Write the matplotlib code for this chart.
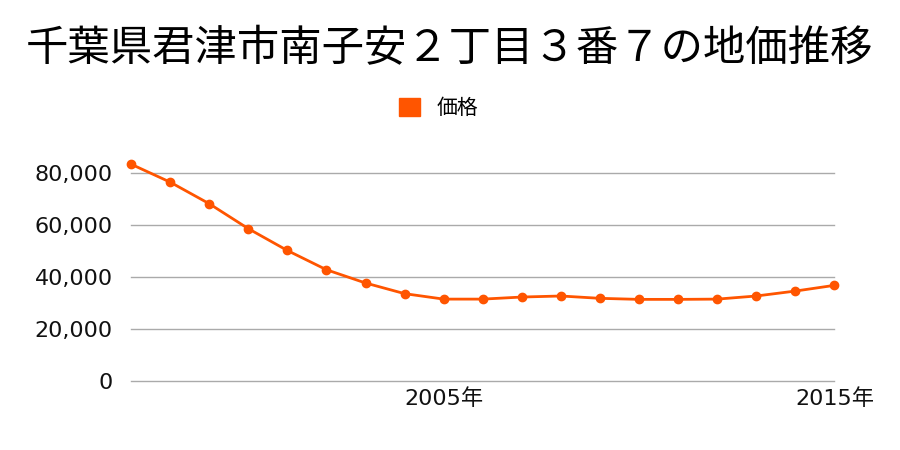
import matplotlib
matplotlib.use('Agg')
import matplotlib.pyplot as plt
from matplotlib.ticker import FuncFormatter
from matplotlib.patches import Patch

plt.rcParams['font.family'] = ['DejaVu Sans', 'Noto Sans CJK JP']

title = "千葉県君津市南子安２丁目３番７の地価推移"
years = list(range(1997, 2016))
price = [83400, 76500, 68200, 58600, 50200, 42800, 37700, 33600, 31500, 31500,
         32300, 32700, 31800, 31400, 31400, 31500, 32700, 34600, 36800]
xticks = [2005, 2015]
xticklabels = ["2005年", "2015年"]
yticks = [0, 20000, 40000, 60000, 80000]

color = '#ff5500'
cjk = ['Noto Sans CJK JP', 'DejaVu Sans']

fig = plt.figure(figsize=(9, 4.5), dpi=100)
ax = fig.add_axes([0.1456, 0.1533, 0.7816, 0.52])

ax.plot(years, price, color=color, linewidth=2, marker='o', markersize=6,
        clip_on=False, zorder=3)

ax.set_xlim(1997, 2015)
ax.set_ylim(0, 90000)
ax.set_yticks(yticks)
ax.yaxis.set_major_formatter(FuncFormatter(lambda v, p: f"{int(v):,}"))
ax.set_xticks(xticks)
ax.set_xticklabels(xticklabels)
ax.grid(axis='y', color='#aaaaaa', linewidth=1)
for gl in ax.get_ygridlines():
    gl.set_clip_on(False)
ax.set_axisbelow(True)
for s in ax.spines.values():
    s.set_visible(False)
ax.tick_params(axis='both', length=0, labelsize=16, colors='#111111')
ax.tick_params(axis='x', pad=5)
ax.tick_params(axis='y', pad=13)

fig.suptitle(title, fontsize=30.5, y=0.94, family=cjk)
fig.legend(handles=[Patch(color=color, label="価格")], loc='center',
           bbox_to_anchor=(0.487, 0.76), frameon=False,
           prop={'family': cjk, 'size': 15},
           handlelength=1.0, handleheight=1.0, handletextpad=0.8)

fig.savefig('out.png', dpi=100)
